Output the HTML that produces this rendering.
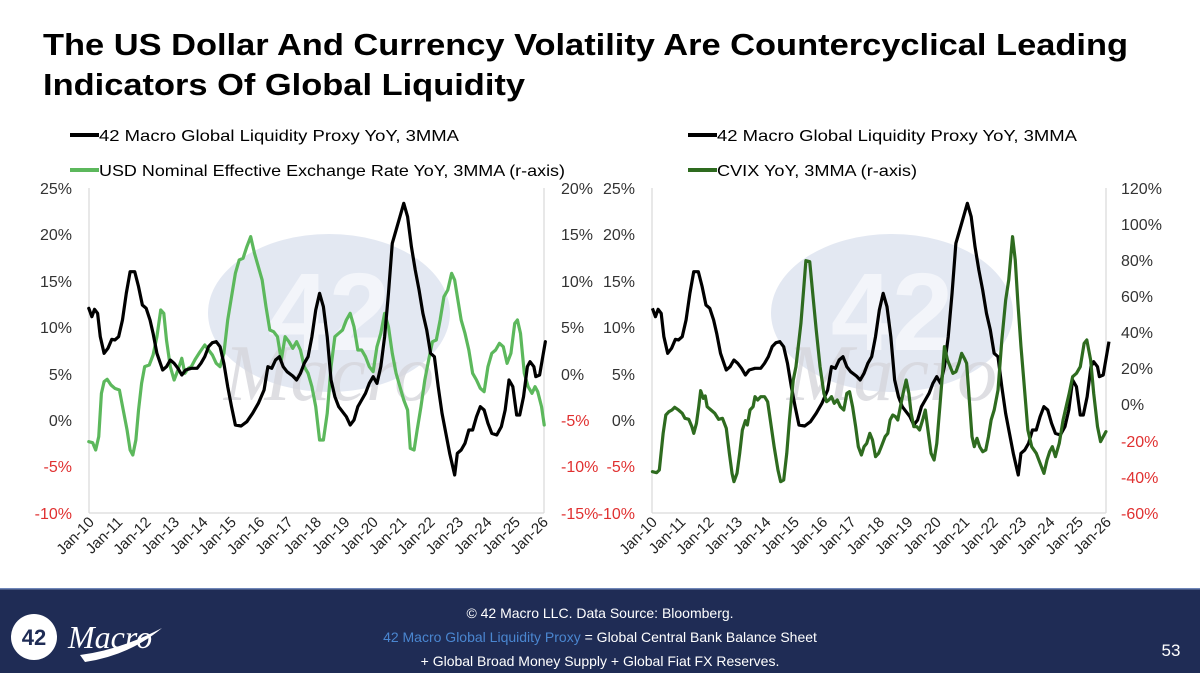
<!DOCTYPE html>
<html><head><meta charset="utf-8"><style>
html,body{margin:0;padding:0;background:#fff;}
svg{display:block;font-family:"Liberation Sans",sans-serif;}
</style></head><body>
<svg width="1200" height="673" viewBox="0 0 1200 673" xmlns="http://www.w3.org/2000/svg">
<rect width="1200" height="673" fill="#fff"/>
<text x="43" y="55" font-size="31" font-weight="bold" fill="#000" textLength="1085" lengthAdjust="spacingAndGlyphs">The US Dollar And Currency Volatility Are Countercyclical Leading</text>
<text x="43" y="95" font-size="31" font-weight="bold" fill="#000" textLength="482" lengthAdjust="spacingAndGlyphs">Indicators Of Global Liquidity</text>

<g font-size="16" fill="#000">
<line x1="70" y1="135" x2="99" y2="135" stroke="#000" stroke-width="4"/>
<text x="99" y="141" textLength="360" lengthAdjust="spacingAndGlyphs">42 Macro Global Liquidity Proxy YoY, 3MMA</text>
<line x1="70" y1="170" x2="99" y2="170" stroke="#5cb85c" stroke-width="4"/>
<text x="99" y="176" textLength="466" lengthAdjust="spacingAndGlyphs">USD Nominal Effective Exchange Rate YoY, 3MMA (r-axis)</text>
<line x1="688" y1="135" x2="717" y2="135" stroke="#000" stroke-width="4"/>
<text x="717" y="141" textLength="360" lengthAdjust="spacingAndGlyphs">42 Macro Global Liquidity Proxy YoY, 3MMA</text>
<line x1="688" y1="170" x2="717" y2="170" stroke="#2e6b1f" stroke-width="4"/>
<text x="717" y="176" textLength="200" lengthAdjust="spacingAndGlyphs">CVIX YoY, 3MMA (r-axis)</text>
</g>

<g>
<ellipse cx="329" cy="313" rx="121" ry="79" fill="#e3e8f2"/>
<text x="329" y="350" font-size="110" font-weight="bold" fill="#f3f5fa" text-anchor="middle">42</text>
<text x="329" y="400" font-size="80" font-style="italic" font-family="Liberation Serif,serif" fill="#d6d6dc" text-anchor="middle" opacity="0.8">Macro</text>
<ellipse cx="892" cy="313" rx="121" ry="79" fill="#e3e8f2"/>
<text x="892" y="350" font-size="110" font-weight="bold" fill="#f3f5fa" text-anchor="middle">42</text>
<text x="892" y="400" font-size="80" font-style="italic" font-family="Liberation Serif,serif" fill="#d6d6dc" text-anchor="middle" opacity="0.8">Macro</text>
</g>

<g stroke="#d9d9d9" stroke-width="1.2" fill="none">
<line x1="89" y1="188" x2="89" y2="513"/><line x1="544" y1="188" x2="544" y2="513"/><line x1="89" y1="513" x2="544" y2="513"/>
<line x1="652" y1="188" x2="652" y2="513"/><line x1="1106" y1="188" x2="1106" y2="513"/><line x1="652" y1="513" x2="1106" y2="513"/>
</g>
<g font-size="16" fill="#333" text-anchor="end">
<text x="72" y="194">25%</text><text x="72" y="240">20%</text><text x="72" y="287">15%</text><text x="72" y="333">10%</text><text x="72" y="380">5%</text><text x="72" y="426">0%</text><text x="72" y="472" fill="#e03030">-5%</text><text x="72" y="519" fill="#e03030">-10%</text>
<text x="635" y="194">25%</text><text x="635" y="240">20%</text><text x="635" y="287">15%</text><text x="635" y="333">10%</text><text x="635" y="380">5%</text><text x="635" y="426">0%</text><text x="635" y="472" fill="#e03030">-5%</text><text x="635" y="519" fill="#e03030">-10%</text>
</g>
<g font-size="16" fill="#333" text-anchor="start">
<text x="561" y="194">20%</text><text x="561" y="240">15%</text><text x="561" y="287">10%</text><text x="561" y="333">5%</text><text x="561" y="380">0%</text><text x="561" y="426" fill="#e03030">-5%</text><text x="561" y="472" fill="#e03030">-10%</text><text x="561" y="519" fill="#e03030">-15%</text>
<text x="1121" y="194">120%</text><text x="1121" y="230">100%</text><text x="1121" y="266">80%</text><text x="1121" y="302">60%</text><text x="1121" y="338">40%</text><text x="1121" y="374">20%</text><text x="1121" y="410">0%</text><text x="1121" y="447" fill="#e03030">-20%</text><text x="1121" y="483" fill="#e03030">-40%</text><text x="1121" y="519" fill="#e03030">-60%</text>
</g>
<g font-size="15" fill="#222" text-anchor="end">
<g>
<text transform="translate(95,523) rotate(-45)">Jan-10</text>
<text transform="translate(123.4,523) rotate(-45)">Jan-11</text>
<text transform="translate(151.8,523) rotate(-45)">Jan-12</text>
<text transform="translate(180.2,523) rotate(-45)">Jan-13</text>
<text transform="translate(208.6,523) rotate(-45)">Jan-14</text>
<text transform="translate(237,523) rotate(-45)">Jan-15</text>
<text transform="translate(265.4,523) rotate(-45)">Jan-16</text>
<text transform="translate(293.8,523) rotate(-45)">Jan-17</text>
<text transform="translate(322.2,523) rotate(-45)">Jan-18</text>
<text transform="translate(350.6,523) rotate(-45)">Jan-19</text>
<text transform="translate(379,523) rotate(-45)">Jan-20</text>
<text transform="translate(407.4,523) rotate(-45)">Jan-21</text>
<text transform="translate(435.8,523) rotate(-45)">Jan-22</text>
<text transform="translate(464.2,523) rotate(-45)">Jan-23</text>
<text transform="translate(492.6,523) rotate(-45)">Jan-24</text>
<text transform="translate(521,523) rotate(-45)">Jan-25</text>
<text transform="translate(549,523) rotate(-45)">Jan-26</text>
</g>
<g transform="translate(563,0)">
<text transform="translate(95,523) rotate(-45)">Jan-10</text>
<text transform="translate(123.4,523) rotate(-45)">Jan-11</text>
<text transform="translate(151.8,523) rotate(-45)">Jan-12</text>
<text transform="translate(180.2,523) rotate(-45)">Jan-13</text>
<text transform="translate(208.6,523) rotate(-45)">Jan-14</text>
<text transform="translate(237,523) rotate(-45)">Jan-15</text>
<text transform="translate(265.4,523) rotate(-45)">Jan-16</text>
<text transform="translate(293.8,523) rotate(-45)">Jan-17</text>
<text transform="translate(322.2,523) rotate(-45)">Jan-18</text>
<text transform="translate(350.6,523) rotate(-45)">Jan-19</text>
<text transform="translate(379,523) rotate(-45)">Jan-20</text>
<text transform="translate(407.4,523) rotate(-45)">Jan-21</text>
<text transform="translate(435.8,523) rotate(-45)">Jan-22</text>
<text transform="translate(464.2,523) rotate(-45)">Jan-23</text>
<text transform="translate(492.6,523) rotate(-45)">Jan-24</text>
<text transform="translate(521,523) rotate(-45)">Jan-25</text>
<text transform="translate(549,523) rotate(-45)">Jan-26</text>
</g>
</g>

<g transform="translate(0,120) scale(0.38271,0.33333)" fill="none" stroke-linejoin="round" stroke-linecap="round">
<polyline vector-effect="non-scaling-stroke" stroke="#5cb85c" stroke-width="3.2" points="232,965 242,968 250,990 258,950 265,820 272,785 280,778 290,795 300,805 312,810 322,870 332,930 340,990 347,1005 355,960 362,870 370,790 378,740 390,735 400,705 410,650 420,570 428,580 435,660 445,740 455,780 465,750 475,715 483,760 492,745 500,740 510,718 520,700 535,675 545,690 555,705 565,730 575,740 585,700 595,600 605,530 615,460 625,420 635,415 645,380 655,350 665,400 675,440 685,480 695,560 705,630 715,635 725,650 735,720 745,650 755,665 765,685 775,665 785,690 795,740 805,760 815,800 825,860 835,960 845,960 855,880 865,740 875,650 885,640 895,630 905,600 915,580 925,620 935,690 945,690 955,710 965,740 975,755 985,680 995,640 1005,580 1015,620 1025,700 1035,760 1045,800 1055,840 1065,870 1072,985 1082,990 1090,930 1100,860 1110,780 1120,720 1130,665 1140,660 1150,600 1160,530 1170,510 1180,460 1188,480 1195,530 1205,600 1215,640 1225,690 1235,760 1245,780 1255,805 1265,815 1275,740 1285,700 1295,690 1305,670 1315,680 1325,730 1335,700 1345,610 1352,600 1360,640 1370,760 1380,800 1390,820 1398,800 1405,815 1415,860 1422,915"/>
<polyline id="blk" vector-effect="non-scaling-stroke" stroke="#000" stroke-width="3.2" points="232,565 240,590 247,568 255,580 262,650 272,700 282,685 292,658 300,660 310,650 320,600 330,520 340,455 352,455 362,500 372,555 382,565 392,600 400,640 410,700 425,750 435,740 445,720 455,730 465,745 475,765 485,750 500,745 515,745 525,730 535,710 545,680 555,668 565,665 575,680 585,730 595,800 605,860 615,915 630,918 645,905 660,880 675,850 690,810 700,740 710,745 720,720 730,710 740,740 750,755 765,768 775,780 785,760 795,730 805,710 815,650 825,570 835,520 845,560 855,650 865,780 875,830 885,860 905,890 915,915 925,900 935,860 945,840 955,820 965,790 975,770 985,790 995,740 1005,650 1015,520 1025,370 1035,330 1045,290 1055,250 1065,290 1075,380 1085,450 1095,510 1105,580 1115,630 1125,700 1135,710 1145,800 1155,880 1165,940 1175,1000 1188,1065 1195,1000 1205,990 1215,970 1225,930 1235,930 1245,890 1255,860 1265,870 1275,910 1285,940 1298,945 1310,920 1320,870 1330,780 1340,800 1350,885 1358,885 1368,830 1378,740 1385,725 1395,740 1400,770 1410,765 1425,665"/>
</g>
<g transform="translate(563.6,120) scale(0.38271,0.33333)" fill="none" stroke-linejoin="round">
<use href="#blk"/>
</g>
<g transform="translate(600,180) scale(0.38271,0.33333)" fill="none" stroke-linejoin="round" stroke-linecap="round">
<polyline vector-effect="non-scaling-stroke" stroke="#2e6b1f" stroke-width="3.2" points="137,875 148,878 155,870 165,760 172,705 180,695 188,690 195,682 205,690 215,700 222,715 232,718 240,740 245,760 252,730 258,680 263,632 270,655 275,648 280,680 290,690 300,700 310,718 320,715 330,745 338,820 345,880 350,905 358,880 365,820 372,750 380,722 385,735 392,690 400,680 405,650 412,660 420,650 430,650 438,665 445,720 455,800 465,870 472,905 480,900 488,820 495,720 505,600 512,560 518,500 525,430 532,330 538,242 548,245 555,330 565,450 575,560 585,640 592,665 598,660 605,650 612,670 620,660 628,680 637,690 645,640 652,635 660,680 668,740 675,800 683,825 690,800 697,790 705,760 712,780 720,830 728,820 735,800 745,770 752,760 758,720 765,705 772,710 778,720 785,680 792,640 800,600 807,640 813,700 820,740 828,740 835,750 843,720 850,690 858,760 865,820 873,840 880,790 888,680 895,580 900,500 908,540 915,560 922,580 930,575 938,550 945,520 952,535 958,550 965,660 972,770 978,800 985,775 992,800 1000,815 1008,810 1015,770 1022,720 1030,690 1040,630 1050,480 1060,360 1068,300 1078,170 1085,240 1092,370 1100,500 1108,610 1118,750 1128,800 1140,820 1150,850 1160,880 1168,840 1175,815 1182,800 1190,830 1200,790 1210,720 1218,680 1226,640 1235,590 1245,580 1255,560 1265,490 1272,480 1282,540 1290,640 1300,740 1308,785 1315,770 1322,755"/>
</g>

<rect x="0" y="588" width="1200" height="85" fill="#1f2c55"/>
<rect x="0" y="588" width="1200" height="1.5" fill="#6f86b8"/>
<circle cx="34" cy="637" r="23" fill="#fff"/>
<text x="34" y="645" font-size="22" font-weight="bold" fill="#1f2c55" text-anchor="middle">42</text>
<text x="68" y="648" font-size="32" font-style="italic" font-family="Liberation Serif,serif" fill="#fff">Macro</text>
<path d="M80 655 Q120 650 162 628 Q130 655 85 662 Z" fill="#fff"/>
<g font-size="14" fill="#fff" text-anchor="middle">
<text x="600" y="618">© 42 Macro LLC. Data Source: Bloomberg.</text>
<text x="600" y="642"><tspan fill="#4a86d0">42 Macro Global Liquidity Proxy</tspan> = Global Central Bank Balance Sheet</text>
<text x="600" y="666">+ Global Broad Money Supply + Global Fiat FX Reserves.</text>
</g>
<text x="1171" y="656" font-size="17" fill="#fff" text-anchor="middle">53</text>
</svg>
</body></html>
